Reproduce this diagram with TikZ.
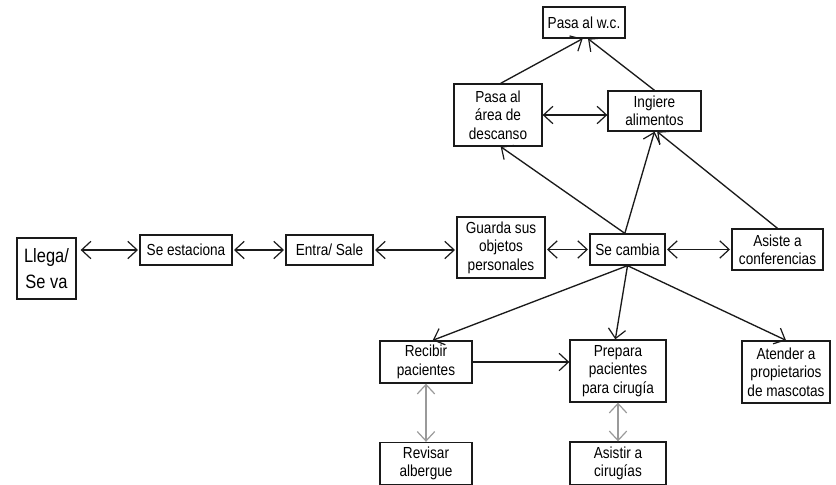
\documentclass[tikz,border=0pt]{standalone}
\usepackage{fontspec}
\setmainfont{Liberation Sans}[FakeStretch=0.85]
\usepackage{xcolor}
\usetikzlibrary{arrows.meta, positioning, calc}
\definecolor{boxline}{HTML}{1A1A1A}
\definecolor{thinline}{HTML}{9A9A9A}
\tikzset{
  pbox/.style={draw=boxline, line width=1pt, align=center, inner sep=1pt, font=\fontsize{12}{13.8}\selectfont},
  ptip/.tip={Straight Barb[length=7pt, width=13pt, line width=0.9pt]},
  pflow/.style={-ptip, line width=1pt, boxline},
  pbi/.style={ptip-ptip, line width=1pt, boxline},
  pbigray/.style={pbi, thinline, line width=0.8pt},
}
\begin{document}
\begin{tikzpicture}[x=0.75pt, y=-0.75pt]
  \useasboundingbox (0,0) rectangle (836,485);
  % horizontal chain
  \node[pbox, minimum width=44.25pt, minimum height=45.75pt, font=\fontsize{14.5}{19}\selectfont] (llega) at (46.5,268.5) {Llega/\\Se va};
  \node[pbox, minimum width=69pt, minimum height=22.5pt] (estaciona) at (186,250) {Se estaciona};
  \node[pbox, minimum width=65.25pt, minimum height=22.5pt] (entra) at (329.5,250) {Entra/ Sale};
  \node[pbox, minimum width=66pt, minimum height=45.75pt] (guarda) at (501,247.5) {Guarda sus\\objetos\\personales};
  \node[pbox, minimum width=56.25pt, minimum height=23.25pt] (cambia) at (627.5,249.5) {Se cambia};
  \node[pbox, minimum width=68.25pt, minimum height=30.75pt] (asiste) at (777.5,249.5) {Asiste a\\conferencias};
  % top group
  \node[pbox, minimum width=61.5pt, minimum height=23.25pt] (wc) at (584,22.5) {Pasa al w.c.};
  \node[pbox, minimum width=66pt, minimum height=46.5pt] (descanso) at (498,115) {Pasa al\\área de\\descanso};
  \node[pbox, minimum width=69.75pt, minimum height=30pt] (ingiere) at (654.5,111) {Ingiere\\alimentos};
  % bottom group
  \node[pbox, minimum width=69pt, minimum height=31.5pt] (recibir) at (426,362) {Recibir\\pacientes};
  \node[pbox, minimum width=72pt, minimum height=46.5pt] (prepara) at (618,371) {Prepara\\pacientes\\para cirugía};
  \node[pbox, minimum width=66pt, minimum height=46.5pt] (atender) at (786,372) {Atender a\\propietarios\\de mascotas};
  \node[pbox, minimum width=69pt, minimum height=31.5pt] (revisar) at (426,463.5) {Revisar\\albergue};
  \node[pbox, minimum width=72pt, minimum height=32.25pt] (asistir) at (618,463.5) {Asistir a\\cirugías};
  % connectors
  \draw[pbi] ([xshift=3pt]llega.east |- estaciona.west) -- ([xshift=-1pt]estaciona.west);
  \draw[pbi] ([xshift=1pt]estaciona.east) -- ([xshift=-1pt]entra.west);
  \draw[pbi] ([xshift=1pt]entra.east) -- ([xshift=-1pt]guarda.west |- entra.east);
  \draw[pbi] ([xshift=1pt]guarda.east |- cambia.west) -- ([xshift=-1pt]cambia.west);
  \draw[pbi] ([xshift=1pt]cambia.east) -- ([xshift=-1pt]asiste.west);
  \draw[pbi] (descanso.east) -- (descanso.east -| ingiere.west);
  \draw[pflow] ([xshift=-2pt]cambia.north) -- ([xshift=2pt]descanso.south);
  \draw[pflow] ([xshift=-2pt]cambia.north) -- (ingiere.south);
  \draw[pflow] (asiste.north) -- ([xshift=2pt]ingiere.south);
  \draw[pflow] ([xshift=2pt]descanso.north) -- ([xshift=-1pt]wc.south);
  \draw[pflow] (ingiere.north) -- ([xshift=3pt]wc.south);
  \draw[pflow] (cambia.south) -- ([xshift=5pt]recibir.north);
  \draw[pflow] (cambia.south) -- ([xshift=-2pt]prepara.north);
  \draw[pflow] (cambia.south) -- (atender.north);
  \draw[pflow] (recibir.east) -- (recibir.east -| prepara.west);
  \draw[pbigray] (recibir.south) -- (revisar.north);
  \draw[pbigray] (prepara.south) -- (asistir.north);
\end{tikzpicture}
\end{document}
